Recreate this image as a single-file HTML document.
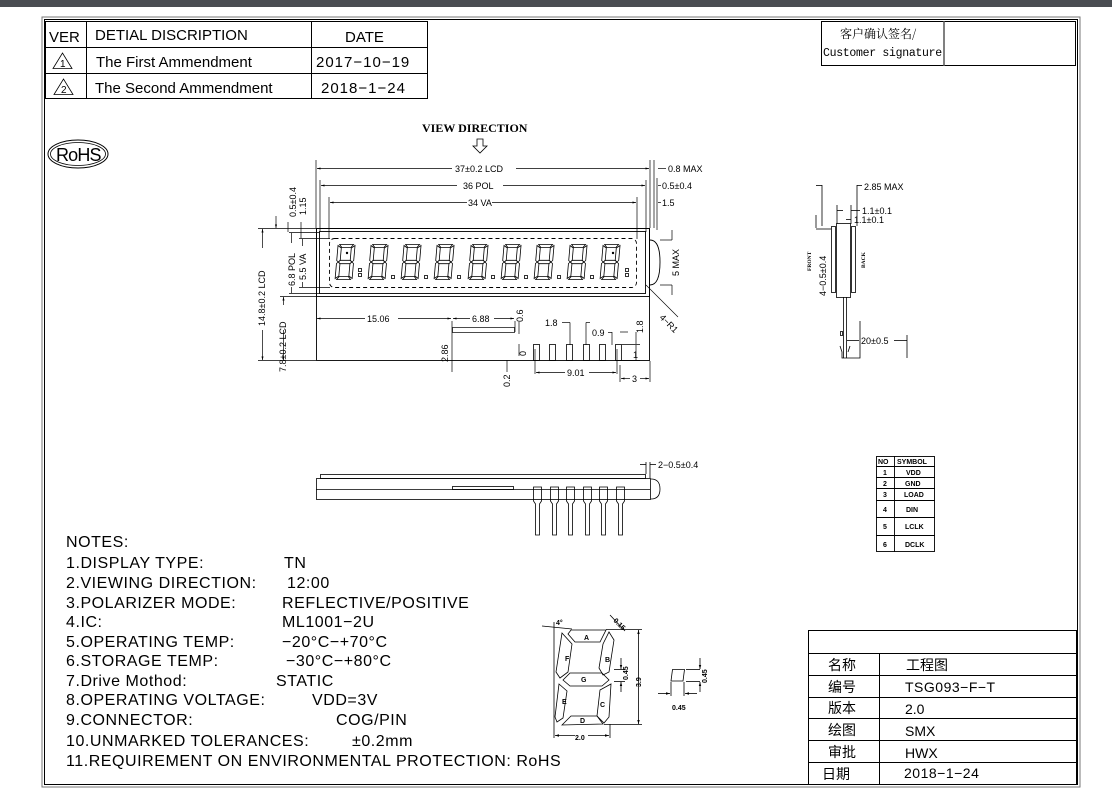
<!DOCTYPE html>
<html><head><meta charset="utf-8"><style>
html,body{margin:0;padding:0;background:#fff;}
svg{display:block;}
text{font-family:"Liberation Sans","Noto Sans CJK SC",sans-serif;fill:#000;}
.s{font-size:9px;}
.n{font-size:16px;letter-spacing:0.55px;}
.ser{font-family:"Liberation Serif","Noto Serif CJK SC",serif;font-weight:bold;}
.sig1{font-family:"Noto Serif CJK SC",serif;font-size:12px;}
.sig2{font-family:"Liberation Mono",monospace;font-size:11.5px;letter-spacing:-0.3px;}
</style></head><body>
<svg width="1112" height="796" viewBox="0 0 1112 796" xmlns="http://www.w3.org/2000/svg">
<defs>
<g id="dg" fill="none" stroke="#000" stroke-width="0.8">
<polygon points="2,0.5 16,0.5 13.5,3.5 4.5,3.5"/>
<polygon points="17.5,1.5 17.5,16.5 15.8,18 14,16.5 14,4"/>
<polygon points="17.5,19.5 17.5,34.5 14,32 14,19.5 15.8,18"/>
<polygon points="2,35.5 16,35.5 13.5,32.5 4.5,32.5"/>
<polygon points="0.5,19.5 0.5,34.5 4,32 4,19.5 2.2,18"/>
<polygon points="0.5,1.5 0.5,16.5 2.2,18 4,16.5 4,4"/>
<polygon points="2.2,18 4,16.3 14,16.3 15.8,18 14,19.7 4,19.7"/>
</g>
<marker id="ar" markerWidth="6" markerHeight="6" refX="5" refY="3" orient="auto-start-reverse"><path d="M0,1.5 L5,3 L0,4.5" fill="#000"/></marker>
</defs>
<rect x="0" y="0" width="1112" height="7" fill="#4a4d52"/>
<!-- frame -->
<rect x="42" y="17" width="1038" height="770" fill="none" stroke="#777" stroke-width="1"/>
<rect x="44.5" y="19.5" width="1033" height="765" fill="none" stroke="#000" stroke-width="1"/>
<!-- revision table -->
<g stroke="#000" stroke-width="1" fill="none">
<rect x="45.5" y="21.5" width="382" height="77"/>
<line x1="45" y1="47.5" x2="428" y2="47.5"/><line x1="45" y1="73.5" x2="428" y2="73.5"/>
<line x1="86.5" y1="21" x2="86.5" y2="99"/><line x1="311.5" y1="21" x2="311.5" y2="99"/>
<polygon points="53,68.5 72,68.5 62.5,53" stroke-width="0.8"/>
<polygon points="54,94.5 73,94.5 63.5,79" stroke-width="0.8"/>
</g>
<text x="49" y="42" font-size="15">VER</text>
<text x="95" y="40" font-size="15">DETIAL DISCRIPTION</text>
<text x="345" y="42" font-size="15">DATE</text>
<text x="96" y="67" font-size="15">The First Ammendment</text>
<text x="316" y="67" font-size="15" letter-spacing="1">2017−10−19</text>
<text x="95" y="93" font-size="15">The Second Ammendment</text>
<text x="321" y="93" font-size="15" letter-spacing="1">2018−1−24</text>
<text x="60" y="67" font-size="10">1</text><text x="61" y="93" font-size="10">2</text>
<!-- signature -->
<g stroke="#000" fill="none"><rect x="821.5" y="21.5" width="254" height="44"/><line x1="944" y1="21" x2="944" y2="66" stroke="#555" stroke-width="1.5"/></g>
<text x="840" y="38" class="sig1">客户确认签名/</text>
<text x="823" y="56" class="sig2">Customer signature</text>
<!-- RoHS -->
<ellipse cx="78" cy="154" rx="30" ry="14" fill="none" stroke="#000" stroke-width="1"/>
<ellipse cx="78" cy="154" rx="27.5" ry="11.5" fill="none" stroke="#000" stroke-width="0.8"/>
<text x="56" y="161" font-size="18" letter-spacing="-1.5" textLength="44">RoHS</text>
<!-- view direction -->
<text x="422" y="132" font-size="12" class="ser">VIEW  DIRECTION</text>
<path d="M477,139 h6 v7 h4 l-7,7 l-7,-7 h4 z" fill="none" stroke="#000" stroke-width="0.8"/>
<!-- front view -->
<g stroke="#000" stroke-width="0.9" fill="none">
<rect x="316.5" y="228.5" width="333" height="132"/>
<rect x="316.5" y="228.5" width="333" height="68"/>
<rect x="319.5" y="231.5" width="326" height="62"/>
<rect x="329.5" y="238.5" width="307" height="49" rx="5" stroke-dasharray="4,3"/>
<path d="M650,240 Q660,240 660,262 Q660,285 650,285"/>
<line x1="646" y1="285" x2="678" y2="317" stroke-width="0.6"/>
</g>
<g transform="skewX(-5) translate(22,0)">
<use href="#dg" x="337" y="244"/><use href="#dg" x="370" y="244"/><use href="#dg" x="403" y="244"/><use href="#dg" x="436" y="244"/><use href="#dg" x="470" y="244"/><use href="#dg" x="503" y="244"/><use href="#dg" x="536" y="244"/><use href="#dg" x="569" y="244"/><use href="#dg" x="602" y="244"/>
</g>
<g fill="none" stroke="#000" stroke-width="0.8">
<rect x="358.5" y="273.5" width="3" height="3"/><rect x="391.5" y="275.5" width="3" height="3"/><rect x="424.5" y="275.5" width="3" height="3"/><rect x="457.5" y="275.5" width="3" height="3"/><rect x="491.5" y="275.5" width="3" height="3"/><rect x="524.5" y="275.5" width="3" height="3"/><rect x="557.5" y="275.5" width="3" height="3"/><rect x="590.5" y="275.5" width="3" height="3"/><rect x="625.5" y="273.5" width="3" height="3"/>
<rect x="358.5" y="268.5" width="3" height="3"/><rect x="625.5" y="268.5" width="3" height="3"/>
</g>
<circle cx="347" cy="253" r="1.2"/><circle cx="613" cy="253" r="1.2"/>
<!-- dims top -->
<g stroke="#000" stroke-width="0.7" fill="none">
<line x1="316" y1="160" x2="316" y2="228"/><line x1="650" y1="160" x2="650" y2="228"/>
<line x1="320" y1="180" x2="320" y2="232"/><line x1="646" y1="180" x2="646" y2="232"/>
<line x1="329" y1="197" x2="329" y2="239"/><line x1="637" y1="197" x2="637" y2="239"/>
<line x1="317" y1="168.5" x2="452" y2="168.5" marker-start="url(#ar)"/><line x1="516" y1="168.5" x2="649" y2="168.5" marker-end="url(#ar)"/>
<line x1="321" y1="185.5" x2="457" y2="185.5" marker-start="url(#ar)"/><line x1="503" y1="185.5" x2="645" y2="185.5" marker-end="url(#ar)"/>
<line x1="330" y1="202.5" x2="467" y2="202.5" marker-start="url(#ar)"/><line x1="492" y1="202.5" x2="636" y2="202.5" marker-end="url(#ar)"/>
<line x1="654" y1="160" x2="654" y2="228"/><line x1="657" y1="178" x2="657" y2="230"/>
<line x1="658" y1="168.5" x2="666" y2="168.5"/><line x1="658" y1="185.5" x2="661" y2="185.5"/><line x1="658" y1="202.5" x2="661" y2="202.5"/>
<line x1="660" y1="240" x2="672" y2="240"/><line x1="660" y1="285" x2="672" y2="285"/>
<line x1="672" y1="230" x2="672" y2="240"/><line x1="672" y1="285" x2="672" y2="295"/>
<!-- left dims -->
<line x1="258" y1="228.5" x2="316" y2="228.5"/><line x1="258" y1="360.5" x2="316" y2="360.5"/>
<line x1="262.5" y1="229" x2="262.5" y2="248" marker-start="url(#ar)"/><line x1="262.5" y1="330" x2="262.5" y2="360" marker-end="url(#ar)"/>
<line x1="280" y1="296.5" x2="316" y2="296.5"/>
<line x1="283.5" y1="297" x2="283.5" y2="305" marker-start="url(#ar)"/><line x1="283.5" y1="330" x2="283.5" y2="360" marker-end="url(#ar)"/>
<line x1="289" y1="232.5" x2="320" y2="232.5"/><line x1="289" y1="293.5" x2="320" y2="293.5"/>
<line x1="291.5" y1="233" x2="291.5" y2="243"/><line x1="291.5" y1="287" x2="291.5" y2="293"/>
<line x1="299" y1="238.5" x2="330" y2="238.5"/><line x1="299" y1="287.5" x2="330" y2="287.5"/>
<line x1="302.5" y1="239" x2="302.5" y2="246"/><line x1="302.5" y1="282" x2="302.5" y2="287"/>
<line x1="276" y1="216" x2="276" y2="228" marker-end="url(#ar)"/><line x1="288" y1="222" x2="288" y2="232"/><line x1="301" y1="222" x2="301" y2="238"/>
<!-- bottom dims -->
<line x1="317" y1="318.5" x2="365" y2="318.5" marker-start="url(#ar)"/><line x1="398" y1="318.5" x2="451" y2="318.5" marker-end="url(#ar)"/>
<line x1="452" y1="321" x2="452" y2="372"/><line x1="515" y1="321" x2="515" y2="332"/>
<line x1="453" y1="318.5" x2="470" y2="318.5" marker-start="url(#ar)"/><line x1="494" y1="318.5" x2="514" y2="318.5" marker-end="url(#ar)"/>
<line x1="519" y1="322" x2="519" y2="334"/><line x1="519" y1="344" x2="519" y2="356"/>
<line x1="507" y1="360" x2="507" y2="372"/>
<rect x="452.5" y="327.5" width="62" height="5"/>
<line x1="535" y1="349" x2="535" y2="374"/><line x1="617" y1="349" x2="617" y2="374"/>
<line x1="536" y1="372.5" x2="565" y2="372.5" marker-start="url(#ar)"/><line x1="589" y1="372.5" x2="616" y2="372.5" marker-end="url(#ar)"/>
<line x1="620" y1="365" x2="620" y2="382"/><line x1="650" y1="361" x2="650" y2="382"/>
<line x1="621" y1="378.5" x2="630" y2="378.5" marker-start="url(#ar)"/><line x1="640" y1="378.5" x2="649" y2="378.5" marker-end="url(#ar)"/>
<line x1="570" y1="322.5" x2="570" y2="345"/><line x1="586" y1="322.5" x2="586" y2="345"/><line x1="612" y1="332" x2="612" y2="345"/>
<line x1="562" y1="322.5" x2="570" y2="322.5"/><line x1="586" y1="322.5" x2="590" y2="322.5"/><line x1="608" y1="332.5" x2="612" y2="332.5"/>
<line x1="620" y1="332" x2="628" y2="332"/><line x1="622" y1="344.5" x2="640" y2="344.5"/><line x1="622" y1="360.5" x2="640" y2="360.5"/>
<line x1="636" y1="332" x2="636" y2="344"/><line x1="636" y1="345" x2="636" y2="360"/>
</g>
<g fill="none" stroke="#000" stroke-width="0.8">
<rect x="533.5" y="344.5" width="6" height="16"/><rect x="549.5" y="344.5" width="6" height="16"/><rect x="566.5" y="344.5" width="6" height="16"/><rect x="583.5" y="344.5" width="6" height="16"/><rect x="599.5" y="344.5" width="6" height="16"/><rect x="615.5" y="344.5" width="6" height="16"/>
</g>
<text x="455" y="172" class="s">37±0.2 LCD</text>
<text x="463" y="189" class="s">36 POL</text>
<text x="468" y="206" class="s">34 VA</text>
<text x="668" y="172" class="s">0.8 MAX</text>
<text x="662" y="189" class="s">0.5±0.4</text>
<text x="662" y="206" class="s">1.5</text>
<text x="367" y="322" class="s">15.06</text>
<text x="472" y="322" class="s">6.88</text>
<text x="545" y="326" class="s">1.8</text>
<text x="592" y="336" class="s">0.9</text>
<text x="567" y="376" class="s">9.01</text>
<text x="632" y="382" class="s">3</text>
<text x="633" y="358" class="s">1</text>
<text x="659" y="318" class="s" transform="rotate(45 659 318)">4−R1</text>
<g class="s">
<text transform="translate(679,276) rotate(-90)">5  MAX</text>
<text transform="translate(265,326) rotate(-90)">14.8±0.2  LCD</text>
<text transform="translate(286,372) rotate(-90)">7.8±0.2  LCD</text>
<text transform="translate(295,286) rotate(-90)">6.8  POL</text>
<text transform="translate(306,280) rotate(-90)">5.5  VA</text>
<text transform="translate(296,217) rotate(-90)">0.5±0.4</text>
<text transform="translate(306,215) rotate(-90)">1.15</text>
<text transform="translate(448,362) rotate(-90)">2.86</text>
<text transform="translate(523,322) rotate(-90)">0.6</text>
<text transform="translate(526,356) rotate(-90)">0</text>
<text transform="translate(510,387) rotate(-90)">0.2</text>
<text transform="translate(643,333) rotate(-90)">1.8</text>
</g>
<!-- side view right -->
<g stroke="#000" stroke-width="0.8" fill="none">
<rect x="831.5" y="226.5" width="4" height="66"/>
<rect x="836.5" y="223.5" width="14" height="74"/>
<rect x="851.5" y="226.5" width="4" height="66"/>
<line x1="843.5" y1="297" x2="843.5" y2="358"/><line x1="846.5" y1="297" x2="846.5" y2="358"/>
<rect x="840.5" y="331.5" width="2" height="4"/>
<path d="M840,346 l2,6 v6 h18 v-37"/><path d="M850,346 l-2,6"/>
<line x1="822" y1="185" x2="822" y2="226"/><line x1="857" y1="185" x2="857" y2="226"/>
<line x1="837" y1="205" x2="837" y2="224"/><line x1="851" y1="205" x2="851" y2="224"/>
<line x1="816" y1="215" x2="816" y2="228"/><line x1="816" y1="229" x2="831" y2="229"/>
<line x1="816" y1="185.5" x2="822" y2="185.5"/><line x1="857" y1="185.5" x2="862" y2="185.5"/>
<line x1="837" y1="210.5" x2="843" y2="210.5"/><line x1="851" y1="210.5" x2="860" y2="210.5"/>
<line x1="846" y1="219.5" x2="851" y2="219.5"/>
<line x1="847" y1="340.5" x2="859" y2="340.5"/><line x1="894" y1="340.5" x2="907" y2="340.5"/><line x1="907" y1="335" x2="907" y2="358"/>
</g>
<text x="864" y="190" class="s">2.85  MAX</text>
<text x="862" y="214" class="s">1.1±0.1</text>
<text x="854" y="223" class="s">1.1±0.1</text>
<text x="861" y="344" class="s">20±0.5</text>
<text transform="translate(826,296) rotate(-90)" class="s">4−0.5±0.4</text>
<text transform="translate(811,271) rotate(-90)" font-size="5.5" class="ser">FRONT</text>
<text transform="translate(865,268) rotate(-90)" font-size="5.5" class="ser">BACK</text>
<!-- side view bottom -->
<g stroke="#000" stroke-width="0.8" fill="none">
<rect x="320.5" y="474.5" width="325" height="4"/>
<rect x="316.5" y="478.5" width="334" height="21"/>
<line x1="316" y1="489.5" x2="650" y2="489.5"/>
<rect x="452.5" y="486.5" width="61" height="3"/>
<path d="M651,479 Q660,479 660,489 Q660,499 651,499"/>
<line x1="646" y1="462" x2="646" y2="474"/><line x1="650" y1="462" x2="650" y2="478"/>
<line x1="640" y1="464.5" x2="646" y2="464.5"/><line x1="650" y1="464.5" x2="656" y2="464.5"/>
<g id="pin"><path d="M533.5,487 v14 l2,3 v31 h4 v-31 l2,-3 v-14 z"/></g>
<use href="#pin" x="17"/><use href="#pin" x="33"/><use href="#pin" x="50"/><use href="#pin" x="66"/><use href="#pin" x="83"/>
</g>
<text x="658" y="468" class="s">2−0.5±0.4</text>
<!-- pin table -->
<g stroke="#000" stroke-width="0.9" fill="none">
<rect x="876.5" y="456.5" width="58" height="95"/>
<line x1="894.5" y1="456" x2="894.5" y2="552"/>
<line x1="876" y1="466.5" x2="935" y2="466.5"/><line x1="876" y1="477.5" x2="935" y2="477.5"/><line x1="876" y1="488.5" x2="935" y2="488.5"/><line x1="876" y1="500.5" x2="935" y2="500.5"/><line x1="876" y1="517.5" x2="935" y2="517.5"/><line x1="876" y1="535.5" x2="935" y2="535.5"/>
</g>
<g font-size="7" class="ser">
<text x="878" y="464">NO</text><text x="897" y="464">SYMBOL</text>
<text x="883" y="475">1</text><text x="906" y="475">VDD</text>
<text x="883" y="486">2</text><text x="905" y="486">GND</text>
<text x="883" y="497">3</text><text x="904" y="497">LOAD</text>
<text x="883" y="512">4</text><text x="906" y="512">DIN</text>
<text x="883" y="529">5</text><text x="905" y="529">LCLK</text>
<text x="883" y="547">6</text><text x="905" y="547">DCLK</text>
</g>
<!-- segment detail -->
<g stroke="#000" stroke-width="0.8" fill="none">
<polygon points="571,630 606,630 600,642 575,642 568,634"/>
<polygon points="562,633 572,644 568,672 560,678 556,672"/>
<polygon points="609,632 614,640 609,672 603,675 599,668 603,644"/>
<polygon points="563,680 570,673 602,673 609,680 602,686 570,686"/>
<polygon points="559,684 567,691 563,718 557,722 555,717"/>
<polygon points="611,684 609,717 604,723 597,716 600,690"/>
<polygon points="562,725 571,716 597,716 603,724"/>
<line x1="554" y1="622" x2="554" y2="738"/><line x1="610" y1="724" x2="610" y2="738"/>
<line x1="555" y1="735.5" x2="575" y2="735.5" marker-start="url(#ar)"/><line x1="588" y1="735.5" x2="609" y2="735.5" marker-end="url(#ar)"/>
<line x1="606" y1="629.5" x2="642" y2="629.5"/><line x1="604" y1="724.5" x2="642" y2="724.5"/>
<line x1="638.5" y1="630" x2="638.5" y2="724" marker-start="url(#ar)" marker-end="url(#ar)"/>
<line x1="614" y1="669.5" x2="625" y2="669.5"/><line x1="614" y1="681.5" x2="625" y2="681.5"/>
<line x1="621" y1="658" x2="621" y2="669" marker-end="url(#ar)"/><line x1="621" y1="692" x2="621" y2="682" marker-end="url(#ar)"/>
<line x1="542" y1="626" x2="572" y2="629"/><line x1="610" y1="615" x2="625" y2="631"/>
<polygon points="672.5,669.5 684.5,669.5 683,681 671,681"/>
<line x1="686" y1="669.5" x2="700" y2="669.5"/><line x1="686" y1="681.5" x2="700" y2="681.5"/>
<line x1="700" y1="658" x2="700" y2="669" marker-end="url(#ar)"/><line x1="700" y1="692" x2="700" y2="682" marker-end="url(#ar)"/>
<line x1="671" y1="682" x2="671" y2="696"/><line x1="684" y1="682" x2="684" y2="696"/>
<line x1="658" y1="693.5" x2="670" y2="693.5" marker-end="url(#ar)"/><line x1="697" y1="693.5" x2="685" y2="693.5" marker-end="url(#ar)"/>
</g>
<g font-size="7" class="ser">
<text x="584" y="640">A</text><text x="605" y="662">B</text><text x="565" y="661">F</text><text x="581" y="682">G</text><text x="562" y="704">E</text><text x="600" y="707">C</text><text x="580" y="723">D</text>
<text x="575" y="740">2.0</text><text x="672" y="710">0.45</text>
<text transform="translate(628,680) rotate(-90)">0.45</text><text transform="translate(641,687) rotate(-90)">3.9</text>
<text transform="translate(707,683) rotate(-90)">0.45</text>
<text transform="translate(613,621) rotate(45)">0.15</text><text x="556" y="625">4°</text>
</g>
<!-- notes -->
<g class="n">
<text x="66" y="547">NOTES:</text>
<text x="66" y="568">1.DISPLAY TYPE:</text><text x="284" y="568">TN</text>
<text x="66" y="588">2.VIEWING DIRECTION:</text><text x="287" y="588">12:00</text>
<text x="66" y="608">3.POLARIZER MODE:</text><text x="282" y="608">REFLECTIVE/POSITIVE</text>
<text x="66" y="627">4.IC:</text><text x="282" y="627">ML1001−2U</text>
<text x="66" y="647">5.OPERATING TEMP:</text><text x="282" y="647">−20°C−+70°C</text>
<text x="66" y="666">6.STORAGE TEMP:</text><text x="286" y="666">−30°C−+80°C</text>
<text x="66" y="686">7.Drive Mothod:</text><text x="276" y="686">STATIC</text>
<text x="66" y="705">8.OPERATING VOLTAGE:</text><text x="312" y="705">VDD=3V</text>
<text x="66" y="725">9.CONNECTOR:</text><text x="336" y="725">COG/PIN</text>
<text x="66" y="746">10.UNMARKED TOLERANCES:</text><text x="352" y="746">±0.2mm</text>
<text x="66" y="766">11.REQUIREMENT ON ENVIRONMENTAL PROTECTION: RoHS</text>
</g>
<!-- title block -->
<g stroke="#000" stroke-width="1" fill="none">
<rect x="808.5" y="630.5" width="268" height="154"/>
<line x1="808" y1="653.5" x2="1077" y2="653.5"/><line x1="808" y1="675.5" x2="1077" y2="675.5"/><line x1="808" y1="697.5" x2="1077" y2="697.5"/><line x1="808" y1="718.5" x2="1077" y2="718.5"/><line x1="808" y1="740.5" x2="1077" y2="740.5"/><line x1="808" y1="762.5" x2="1077" y2="762.5"/>
<line x1="879.5" y1="653" x2="879.5" y2="785"/>
</g>
<g font-size="14">
<text x="828" y="670">名称</text><text x="906" y="670">工程图</text>
<text x="828" y="692">编号</text><text x="905" y="692" letter-spacing="0.5">TSG093−F−T</text>
<text x="828" y="713">版本</text><text x="905" y="714">2.0</text>
<text x="828" y="735">绘图</text><text x="905" y="736">SMX</text>
<text x="828" y="757">审批</text><text x="905" y="758">HWX</text>
<text x="822" y="779">日期</text><text x="904" y="778" letter-spacing="0.5">2018−1−24</text>
</g>
</svg>
</body></html>
